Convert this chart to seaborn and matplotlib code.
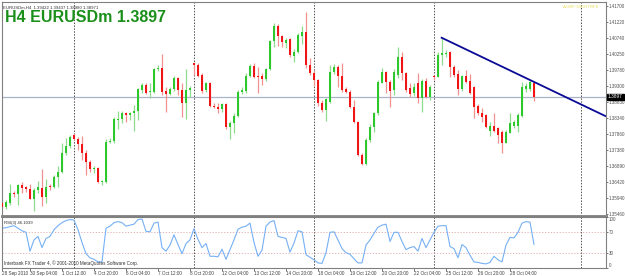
import matplotlib
matplotlib.use('Agg')
import matplotlib.pyplot as plt
import matplotlib.transforms as mtransforms
import seaborn as sns
import numpy as np
import pandas as pd

# ---------------- data ----------------
opens = [1.3579,1.3567,1.3579,1.3609,1.3606,1.3633,1.3627,1.3621,1.3591,1.3618,
         1.3624,1.3597,1.3630,1.3627,1.3657,1.3672,1.3729,1.3750,1.3783,1.3771,
         1.3756,1.3729,1.3702,1.3681,1.3684,1.3642,1.3642,1.3762,1.3765,1.3828,
         1.3831,1.3849,1.3843,1.3849,1.3855,1.3918,1.3933,1.3912,1.3912,1.3981,
         1.3984,1.3915,1.3906,1.3921,1.3954,1.3918,1.3879,1.3918,1.3999,1.3993,
         1.3963,1.3918,1.3939,1.3870,1.3867,1.3861,1.3876,1.3807,1.3819,1.3840,
         1.3912,1.3915,1.3960,1.3990,1.3960,1.3960,1.3951,1.3981,1.4065,1.4110,
         1.4080,1.4059,1.4071,1.4020,1.4032,1.4080,1.4092,1.3993,1.3969,1.3948,
         1.3879,1.3858,1.3882,1.3972,1.3987,1.3960,1.3921,1.3912,1.3867,1.3822,
         1.3723,1.3696,1.3768,1.3807,1.3849,1.3939,1.3972,1.3942,1.3918,1.3963,
         1.4017,1.3969,1.3924,1.3909,1.3939,1.3894,1.3945,1.3897,1.3960,1.3957,
         1.4023,1.4026,1.4032,1.3987,1.3966,1.3921,1.3960,1.3945,1.3927,1.3870,
         1.3849,1.3843,1.3795,1.3810,1.3804,1.3792,1.3759,1.3789,1.3810,1.3810,
         1.3840,1.3921,1.3921,1.3939]
highs = [1.3591,1.3588,1.3636,1.3615,1.3636,1.3642,1.3630,1.3636,1.3624,1.3645,
         1.3681,1.3651,1.3636,1.3663,1.3690,1.3759,1.3774,1.3783,1.3789,1.3777,
         1.3780,1.3738,1.3708,1.3690,1.3687,1.3648,1.3771,1.3774,1.3837,1.3855,
         1.3855,1.3852,1.3852,1.3873,1.3924,1.3939,1.3939,1.3939,1.3984,1.3993,
         1.4026,1.3927,1.3927,1.3960,1.3957,1.3939,1.3981,1.3930,1.4002,1.3999,
         1.3969,1.3942,1.3942,1.3879,1.3879,1.3879,1.3879,1.3825,1.3849,1.3918,
         1.3927,1.3969,1.3996,1.3999,1.3987,1.3969,1.3984,1.4068,1.4119,1.4116,
         1.4083,1.4074,1.4074,1.4041,1.4089,1.4110,1.4152,1.4014,1.3978,1.3951,
         1.3888,1.3894,1.3993,1.3996,1.3993,1.3999,1.3927,1.3918,1.3888,1.3825,
         1.3729,1.3774,1.3816,1.3852,1.3948,1.3984,1.3975,1.3948,1.3981,1.4047,
         1.4032,1.3972,1.3939,1.3939,1.3969,1.3951,1.3954,1.3933,1.3963,1.4032,
         1.4077,1.4038,1.4035,1.3993,1.3978,1.3963,1.3978,1.3966,1.3930,1.3876,
         1.3864,1.3846,1.3822,1.3849,1.3807,1.3798,1.3798,1.3849,1.3828,1.3849,
         1.3942,1.3939,1.3948,1.3942]
lows = [1.3564,1.3561,1.3573,1.3597,1.3573,1.3609,1.3612,1.3591,1.3555,1.3609,
        1.3570,1.3579,1.3618,1.3624,1.3627,1.3669,1.3723,1.3744,1.3768,1.3738,
        1.3708,1.3663,1.3672,1.3669,1.3639,1.3633,1.3639,1.3759,1.3759,1.3801,
        1.3819,1.3822,1.3828,1.3795,1.3828,1.3909,1.3906,1.3894,1.3909,1.3975,
        1.3903,1.3852,1.3903,1.3915,1.3903,1.3837,1.3831,1.3897,1.3963,1.3957,
        1.3909,1.3912,1.3867,1.3864,1.3849,1.3852,1.3801,1.3771,1.3789,1.3837,
        1.3906,1.3909,1.3957,1.3954,1.3909,1.3933,1.3945,1.3978,1.4047,1.4050,
        1.4047,1.4044,1.4017,1.4002,1.4029,1.4056,1.3984,1.3963,1.3930,1.3870,
        1.3852,1.3825,1.3879,1.3966,1.3927,1.3912,1.3909,1.3864,1.3819,1.3720,
        1.3693,1.3693,1.3762,1.3792,1.3843,1.3939,1.3909,1.3867,1.3903,1.3954,
        1.3948,1.3912,1.3897,1.3900,1.3879,1.3852,1.3894,1.3888,1.3948,1.3957,
        1.3993,1.4017,1.3957,1.3957,1.3903,1.3915,1.3939,1.3906,1.3834,1.3843,
        1.3822,1.3804,1.3780,1.3792,1.3759,1.3729,1.3759,1.3789,1.3804,1.3792,
        1.3837,1.3912,1.3915,1.3885]
closes = [1.3567,1.3582,1.3609,1.3606,1.3633,1.3624,1.3621,1.3591,1.3618,1.3627,
          1.3597,1.3627,1.3627,1.3657,1.3672,1.3729,1.3750,1.3777,1.3771,1.3756,
          1.3729,1.3702,1.3681,1.3684,1.3642,1.3645,1.3762,1.3765,1.3831,1.3831,
          1.3849,1.3843,1.3849,1.3855,1.3921,1.3933,1.3909,1.3915,1.3981,1.3984,
          1.3912,1.3906,1.3921,1.3954,1.3918,1.3879,1.3918,1.3924,1.3993,1.3960,
          1.3915,1.3939,1.3870,1.3867,1.3861,1.3876,1.3807,1.3819,1.3840,1.3912,
          1.3918,1.3960,1.3990,1.3957,1.3957,1.3951,1.3981,1.4065,1.4110,1.4080,
          1.4062,1.4068,1.4023,1.4032,1.4083,1.4092,1.3993,1.3969,1.3948,1.3879,
          1.3858,1.3891,1.3972,1.3987,1.3960,1.3918,1.3912,1.3867,1.3822,1.3723,
          1.3696,1.3768,1.3807,1.3849,1.3942,1.3972,1.3942,1.3915,1.3972,1.4017,
          1.3969,1.3918,1.3906,1.3927,1.3894,1.3945,1.3897,1.3927,1.3957,1.4023,
          1.4029,1.4029,1.3987,1.3963,1.3921,1.3960,1.3942,1.3909,1.3867,1.3849,
          1.3837,1.3807,1.3810,1.3795,1.3783,1.3759,1.3792,1.3819,1.3822,1.3843,
          1.3927,1.3930,1.3942,1.3897]
rsi_values = [78,79,81,83,78,73,70,33,55,62,
              40,58,62,75,83,89,93,95,94,75,
              50,28,20,17,12,12,78,82,89,91,
              89,82,84,86,95,96,72,71,88,90,
              40,33,45,65,46,28,48,55,77,56,
              40,48,23,23,22,37,17,36,55,76,
              80,82,88,50,23,35,82,90,93,62,
              60,58,31,49,73,71,26,21,16,10,
              9,30,70,71,55,38,30,27,18,10,
              10,45,55,68,80,84,86,52,70,70,
              52,36,40,42,33,58,40,55,70,82,
              83,83,42,38,20,46,40,25,12,11,
              9,8,11,23,16,12,45,60,59,70,
              88,91,90,46]

price_ticks = [1.41700, 1.41220, 1.40740, 1.40250, 1.39780, 1.39300, 1.38830,
               1.38340, 1.37860, 1.37380, 1.36890, 1.36420, 1.35940, 1.35460]
rsi_ticks = [100, 70, 30, 0]
rsi_levels = [70, 30]
time_labels = ["28 Sep 2010", "30 Sep 04:00", "1 Oct 12:00", "4 Oct 20:00",
               "6 Oct 04:00", "7 Oct 12:00", "8 Oct 20:00", "12 Oct 04:00",
               "13 Oct 12:00", "14 Oct 20:00", "18 Oct 04:00", "19 Oct 12:00",
               "20 Oct 20:00", "22 Oct 04:00", "25 Oct 12:00", "26 Oct 20:00",
               "28 Oct 04:00"]
time_label_bars = [0, 7, 15, 23, 31, 39, 47, 55, 63, 71, 79, 87, 95, 103, 111, 119, 127]
week_separators = [18, 48, 78, 108, 144.75]
trend_bars = [109.7, 132.0]
trend_prices = [1.4076, 1.3948]
current_price = 1.3897
header_values = "EURUSDm,H4  1.39422 1.39437 1.38980 1.38971"
title_text = "H4 EURUSDm 1.3897"
rsi_label = "RSI(3) 46.1039"
footer_text = "Interbank FX Trader 4, \u00a9 2001-2010 MetaQuotes Software Corp."
corner_text = "A:GBP-NIGHTRFE"

# ---------------- styling ----------------
sns.set_style("white")
plt.rcParams['font.family'] = ['Liberation Sans', 'DejaVu Sans']

W, H = 625, 276
fig = plt.figure(figsize=(W / 100, H / 100), dpi=100)
fig.patch.set_facecolor('white')


def rect(x0, y0, x1, y1):
    return [x0 / W, 1 - y1 / H, (x1 - x0) / W, (y1 - y0) / H]


ax = fig.add_axes(rect(2, 2, 606, 216))
ax2 = fig.add_axes(rect(2, 217, 606, 268))

n = len(opens)
df = pd.DataFrame({'bar': np.arange(n), 'open': opens, 'high': highs,
                   'low': lows, 'close': closes, 'rsi': rsi_values})
up = df['close'] >= df['open']

body_up, body_dn = '#2cc82c', '#f01414'
wick_up, wick_dn = '#8fdc8f', '#f29090'

ax.vlines(df['bar'], df['low'], df['high'],
          colors=np.where(up, wick_up, wick_dn), linewidth=0.9, zorder=2)
heights = (df['close'] - df['open']).abs().clip(lower=0.00025)
bottoms = df[['open', 'close']].min(axis=1)
ax.bar(df['bar'], heights, bottom=bottoms, width=0.72,
       color=np.where(up, body_up, body_dn), linewidth=0, zorder=3)

ax.set_xlim(0, 151)
ax.set_ylim(1.3540, 1.4182)

# current price line
ax.axhline(current_price, color='#aab4c8', linewidth=0.9, zorder=1)

# weekly separators
for s in week_separators:
    ax.axvline(s, color='#505050', linestyle=(0, (1.5, 1.5)), linewidth=0.7, zorder=1)
    ax2.axvline(s, color='#505050', linestyle=(0, (1.5, 1.5)), linewidth=0.7, zorder=1)

# trend line (ray to the right edge)
slope = (trend_prices[1] - trend_prices[0]) / (trend_bars[1] - trend_bars[0])
x_end = 151
ax.plot([trend_bars[0], x_end],
        [trend_prices[0], trend_prices[0] + slope * (x_end - trend_bars[0])],
        color='#0a0a96', linewidth=1.3, zorder=4, solid_capstyle='butt')

# price axis on the right
ax.yaxis.tick_right()
ax.set_yticks(price_ticks)
ax.set_yticklabels([f"{p:.5f}" for p in price_ticks])
ax.tick_params(axis='y', which='both', right=True, length=1.5, width=0.6,
               pad=0.3, labelsize=3.25, colors='#606060', labelcolor='#505050')
ax.set_xticks([])
for side in ['top', 'left', 'right']:
    ax.spines[side].set_color('#808080')
    ax.spines[side].set_linewidth(0.8)
ax.spines['bottom'].set_color('#808080')
ax.spines['bottom'].set_linewidth(2.0)

blend = mtransforms.blended_transform_factory(ax.transAxes, ax.transData)
ax.text(1.003, current_price, f"{current_price:.4f}", transform=blend,
        ha='left', va='center', fontsize=3.4, color='white', zorder=6,
        bbox=dict(boxstyle='square,pad=0.2', fc='black', ec='black'), clip_on=False)

# ---------------- RSI panel ----------------
sns.lineplot(data=df, x='bar', y='rsi', ax=ax2, color='#76b0f5', linewidth=0.8)
for lv in rsi_levels:
    ax2.axhline(lv, color='#dda8a8', linestyle=(0, (1.5, 2)), linewidth=0.6, zorder=1)
ax2.set_xlim(0, 151)
ax2.set_ylim(0, 100)
ax2.set_xlabel('')
ax2.set_ylabel('')
ax2.yaxis.tick_right()
ax2.set_yticks(rsi_ticks)
ax2.set_yticklabels([str(t) for t in rsi_ticks])
ax2.tick_params(axis='y', right=True, length=1.5, width=0.6, pad=0.3,
                labelsize=3.25, colors='#606060', labelcolor='#505050')
ylabs = ax2.get_yticklabels()
ylabs[0].set_va('top')
ylabs[-1].set_va('bottom')
ax2.set_xticks(time_label_bars)
ax2.set_xticklabels(time_labels)
ax2.tick_params(axis='x', bottom=True, length=2, width=0.6, pad=0.5,
                labelsize=3.3, colors='#606060', labelcolor='#404040')
for lab in ax2.get_xticklabels():
    lab.set_ha('left')
for side in ['top', 'left', 'right', 'bottom']:
    ax2.spines[side].set_color('#808080')
    ax2.spines[side].set_linewidth(0.8)

ax2.text(0.004, 0.93, rsi_label, transform=ax2.transAxes, ha='left', va='top',
         fontsize=3.1, color='#303030')
ax2.text(0.004, 0.04, footer_text, transform=ax2.transAxes, ha='left', va='bottom',
         fontsize=3.3, color='#303030')

# ---------------- header texts ----------------
fig.text(3 / W, 1 - 7.5 / H, header_values, ha='left', va='center',
         fontsize=3.1, color='#303030')
fig.text(5 / W, 1 - 22.5 / H, title_text, ha='left', va='baseline',
         fontsize=11.5, fontweight='bold', color='#1a8f1a')
fig.text(563 / W, 1 - 7 / H, corner_text, ha='left', va='center',
         fontsize=3.1, color='#e6e060')

fig.savefig('out.png', dpi=100, facecolor='white')
